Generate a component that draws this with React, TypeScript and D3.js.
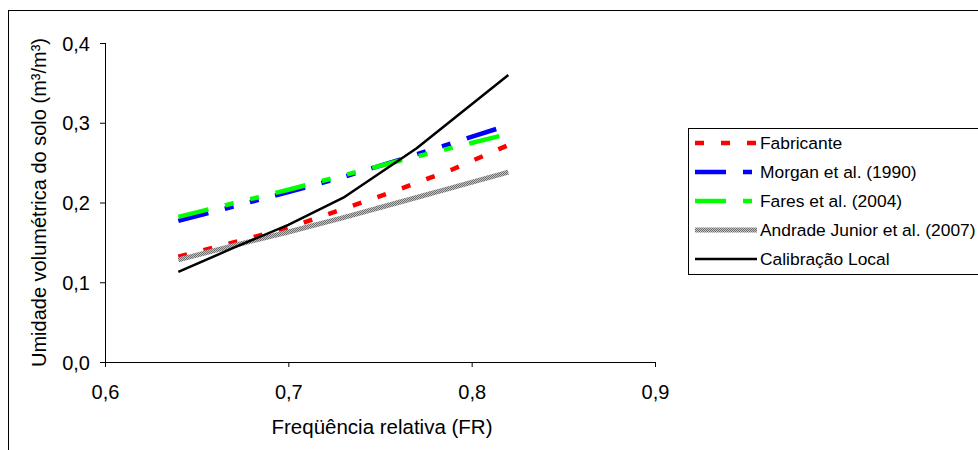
import React, { useEffect, useRef } from 'react';
import * as d3 from 'd3';

// relative frequency (FR) sample points
const frValues = [0.64, 0.67, 0.7, 0.73, 0.76, 0.79, 0.82];
const fabricante = [0.132, 0.15, 0.168, 0.192, 0.216, 0.242, 0.272];
const morgan = [0.177, 0.195, 0.213, 0.232, 0.253, 0.275, 0.297];
const fares = [0.182, 0.199, 0.216, 0.234, 0.252, 0.269, 0.286];
const andrade = [0.128, 0.146, 0.163, 0.181, 0.2, 0.219, 0.238];

const calibFr = [0.64, 0.67, 0.7, 0.73, 0.77, 0.82];
const calibracao = [0.113, 0.143, 0.172, 0.206, 0.268, 0.36];

const xTicks = [0.6, 0.7, 0.8, 0.9];
const yTicks = [0, 0.1, 0.2, 0.3, 0.4];

const seriesNames = [
  'Fabricante',
  'Morgan et al. (1990)',
  'Fares et al. (2004)',
  'Andrade Junior et al. (2007)',
  'Calibração Local',
];

type Style = { stroke: string; width: number; dash: string | null };

const styles: Style[] = [
  { stroke: '#ff0000', width: 4.5, dash: '9,17' },
  { stroke: '#0000ff', width: 4.5, dash: '31,17,9,17,9,17' },
  { stroke: '#00ff00', width: 4.5, dash: '31,17,9,17,9,17' },
  { stroke: 'url(#grayTexture)', width: 5, dash: null },
  { stroke: '#000000', width: 2.5, dash: null },
];

const fmt = (v: number) => v.toFixed(1).replace('.', ',');

const App = () => {
  const svgRef = useRef<SVGSVGElement | null>(null);

  useEffect(() => {
    const svg = d3.select(svgRef.current);
    svg.selectAll('*').remove();

    const font = "'Liberation Sans', Arial, sans-serif";

    const x = d3.scaleLinear().domain([0.6, 0.9]).range([105, 655]);
    const y = d3.scaleLinear().domain([0, 0.4]).range([362, 43]);

    // texture for the Andrade line
    const defs = svg.append('defs');
    const pat = defs
      .append('pattern')
      .attr('id', 'grayTexture')
      .attr('patternUnits', 'userSpaceOnUse')
      .attr('width', 2)
      .attr('height', 2);
    pat.append('rect').attr('width', 2).attr('height', 2).attr('fill', '#c4c4c4');
    pat.append('rect').attr('width', 1).attr('height', 1).attr('fill', '#6e6e6e');
    pat.append('rect').attr('x', 1).attr('y', 1).attr('width', 1).attr('height', 1).attr('fill', '#6e6e6e');

    // outer frame (runs off the right / bottom edge)
    svg
      .append('rect')
      .attr('x', 8.5)
      .attr('y', 10.5)
      .attr('width', 1000)
      .attr('height', 480)
      .attr('fill', 'none')
      .attr('stroke', '#000')
      .attr('stroke-width', 1);

    // axes
    const xAxis = d3.axisBottom(x).tickValues(xTicks).tickSize(5).tickFormat((d) => fmt(+d));
    const gx = svg
      .append('g')
      .attr('transform', `translate(0,${y(0)})`)
      .call(xAxis);
    gx.select('.domain').attr('d', `M${x(0.6)},0.5H${x(0.9)}`);
    gx.selectAll('.tick line').attr('stroke', '#000');
    gx.selectAll('.tick text')
      .attr('y', 0)
      .attr('dy', 37)
      .attr('font-size', 20)
      .attr('font-family', font)
      .attr('fill', '#000');

    const yAxis = d3.axisLeft(y).tickValues(yTicks).tickSize(5).tickFormat((d) => fmt(+d));
    const gy = svg.append('g').attr('transform', `translate(${x(0.6)},0)`).call(yAxis);
    gy.select('.domain').attr('d', `M0.5,${y(0.4)}V${y(0)}`);
    gy.selectAll('.tick line').attr('stroke', '#000');
    gy.selectAll('.tick text')
      .attr('x', -15)
      .attr('dy', 7)
      .attr('font-size', 20)
      .attr('font-family', font)
      .attr('fill', '#000');
    svg.selectAll('.domain').attr('stroke', '#000');

    // axis titles
    svg
      .append('text')
      .attr('x', 382)
      .attr('y', 434)
      .attr('text-anchor', 'middle')
      .attr('font-size', 20.5)
      .attr('font-family', font)
      .text('Freqüência relativa (FR)');

    svg
      .append('text')
      .attr('transform', `translate(46,${y(0.2)}) rotate(-90)`)
      .attr('text-anchor', 'middle')
      .attr('font-size', 20)
      .attr('font-family', font)
      .text('Umidade volumétrica do solo (m³/m³)');

    // lines
    const line = d3
      .line<[number, number]>()
      .x((d) => x(d[0]))
      .y((d) => y(d[1]));

    const seriesData: [number, number][][] = [
      frValues.map((f, i) => [f, fabricante[i]]),
      frValues.map((f, i) => [f, morgan[i]]),
      frValues.map((f, i) => [f, fares[i]]),
      frValues.map((f, i) => [f, andrade[i]]),
      calibFr.map((f, i) => [f, calibracao[i]]),
    ];

    seriesData.forEach((pts, i) => {
      const s = styles[i];
      svg
        .append('path')
        .attr('d', line(pts))
        .attr('fill', 'none')
        .attr('stroke', s.stroke)
        .attr('stroke-width', s.width)
        .attr('stroke-dasharray', s.dash)
        .attr('stroke-linejoin', 'round');
    });

    // legend
    const legend = svg.append('g');
    legend
      .append('rect')
      .attr('x', 688.5)
      .attr('y', 128.5)
      .attr('width', 400)
      .attr('height', 146)
      .attr('fill', '#fff')
      .attr('stroke', '#000')
      .attr('stroke-width', 1);

    seriesNames.forEach((name, i) => {
      const cy = 143 + i * 29;
      const s = styles[i];
      legend
        .append('line')
        .attr('x1', 695)
        .attr('x2', 757)
        .attr('y1', cy)
        .attr('y2', cy)
        .attr('stroke', s.stroke)
        .attr('stroke-width', s.width)
        .attr('stroke-dasharray', s.dash);
      legend
        .append('text')
        .attr('x', 760)
        .attr('y', cy + 6)
        .attr('font-size', 17.4)
        .attr('font-family', font)
        .text(name);
    });
  }, []);

  return (
    <svg
      ref={svgRef}
      width={978}
      height={450}
      style={{ position: 'absolute', left: 0, top: 0, background: '#fff' }}
    />
  );
};

export default App;
